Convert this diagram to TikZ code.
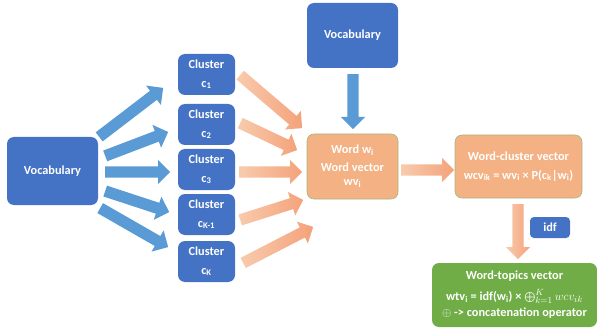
\documentclass[tikz,border=0pt]{standalone}
\usepackage{fontspec}
\setmainfont{Carlito}
\usetikzlibrary{shapes.arrows,calc}

\definecolor{boxblue}{HTML}{4472C4}
\definecolor{arrowblue}{HTML}{5B9BD5}
\definecolor{boxorange}{HTML}{F4B183}
\definecolor{boxline}{HTML}{A9B57E}
\definecolor{arrowlight}{HTML}{F8CBAD}
\definecolor{arrowdark}{HTML}{F4A27A}
\definecolor{boxgreen}{HTML}{70AD47}

\tikzset{
  box/.style={rounded corners=7pt, text=white, font=\bfseries\fontsize{12.3}{14.5}\selectfont, align=center, inner sep=0pt},
  bluebox/.style={box, fill=boxblue},
  clusterbox/.style={bluebox, minimum width=57pt, minimum height=41pt},
  orangebox/.style={box, fill=boxorange, draw=boxline, line width=0.6pt},
  greenbox/.style={box, fill=boxgreen},
  fat/.style={single arrow, inner xsep=0pt, inner ysep=5.5pt, single arrow head extend=6.5pt, single arrow tip angle=90, single arrow head indent=0pt, draw=none},
  bluefat/.style={fat, fill=arrowblue},
  orangefat/.style={fat, left color=arrowlight, right color=arrowdark}
}

% fat arrow from one named point to another
\newcommand\fatarrow[3]{%
  \path let \p1=($(#3)-(#2)$), \n1={atan2(\y1,\x1)}, \n2={veclen(\x1,\y1)} in
    node[#1, minimum height=\n2, rotate=\n1, anchor=tail] at (#2) {};}

\begin{document}
\begin{tikzpicture}[x=1pt, y=-1pt]
    \useasboundingbox (0,0) rectangle (597,334);

    % Vocabulary and clusters
    \node[bluebox, minimum width=91pt, minimum height=68pt] (voc) at (52.5,171) {Vocabulary};
    \node[clusterbox] (c1) at (206.5,74.5) {Cluster\\[4pt] c\textsubscript{1}};
    \node[clusterbox] (c2) at (206.5,124.5) {Cluster\\[4pt] c\textsubscript{2}};
    \node[clusterbox] (c3) at (206.5,169.5) {Cluster\\[4pt] c\textsubscript{3}};
    \node[clusterbox] (ck1) at (206.5,214.5) {Cluster\\[4pt] c\textsubscript{K-1}};
    \node[clusterbox] (ck) at (206.5,261.5) {Cluster\\[4pt] c\textsubscript{K}};

    % Word and vectors
    \node[bluebox, minimum width=91pt, minimum height=65pt] (topvoc) at (352.5,35.5) {Vocabulary};
    \node[orangebox, minimum width=91pt, minimum height=65pt] (word) at (352.5,166.5) {Word w\textsubscript{i}\\[3pt] Word vector\\ wv\textsubscript{i}};
    \node[orangebox, minimum width=127pt, minimum height=63pt] (wcv) at (518.5,166.5) {Word-cluster vector\\[4pt] wcv\textsubscript{ik} = wv\textsubscript{i} × P(c\textsubscript{k}|w\textsubscript{i})};
    \node[bluebox, rounded corners=4pt, minimum width=40pt, minimum height=21pt] (idf) at (550,227.5) {idf};
    \node[greenbox, minimum width=165pt, minimum height=64pt] (wtv) at (514.5,295) {Word-topics vector\\[6pt] wtv\textsubscript{i} = idf(w\textsubscript{i}) × $\bigoplus_{k=1}^{K} wcv_{ik}$\\[2pt] $\oplus$ -> concatenation operator};

    % Arrow ends
    \coordinate (b1a) at (99,137);  \coordinate (b1b) at (163,88);
    \coordinate (b2a) at (105,156); \coordinate (b2b) at (168,132);
    \coordinate (b3a) at (105,172); \coordinate (b3b) at (170,172);
    \coordinate (b4a) at (105,191); \coordinate (b4b) at (169,212);
    \coordinate (b5a) at (100,208); \coordinate (b5b) at (168,247);
    \coordinate (o1a) at (240,75);  \coordinate (o1b) at (302,128);
    \coordinate (o2a) at (240,123); \coordinate (o2b) at (297,150);
    \coordinate (o3a) at (239,172); \coordinate (o3b) at (302,172);
    \coordinate (o4a) at (240,220); \coordinate (o4b) at (303,200);
    \coordinate (o5a) at (243,263); \coordinate (o5b) at (313,227);
    \coordinate (va) at (353,74);   \coordinate (vb) at (353,129);
    \coordinate (wa) at (401,170);  \coordinate (wb) at (454,170);
    \coordinate (da) at (518,204);  \coordinate (db) at (518,259);

    % Vocabulary -> clusters
    \fatarrow{bluefat}{b1a}{b1b}
    \fatarrow{bluefat}{b2a}{b2b}
    \fatarrow{bluefat}{b3a}{b3b}
    \fatarrow{bluefat}{b4a}{b4b}
    \fatarrow{bluefat}{b5a}{b5b}

    % clusters -> word
    \fatarrow{orangefat}{o1a}{o1b}
    \fatarrow{orangefat}{o2a}{o2b}
    \fatarrow{orangefat}{o3a}{o3b}
    \fatarrow{orangefat}{o4a}{o4b}
    \fatarrow{orangefat}{o5a}{o5b}

    % vocabulary -> word -> vectors
    \fatarrow{bluefat}{va}{vb}
    \fatarrow{orangefat}{wa}{wb}
    \fatarrow{orangefat}{da}{db}

\end{tikzpicture}
\end{document}
